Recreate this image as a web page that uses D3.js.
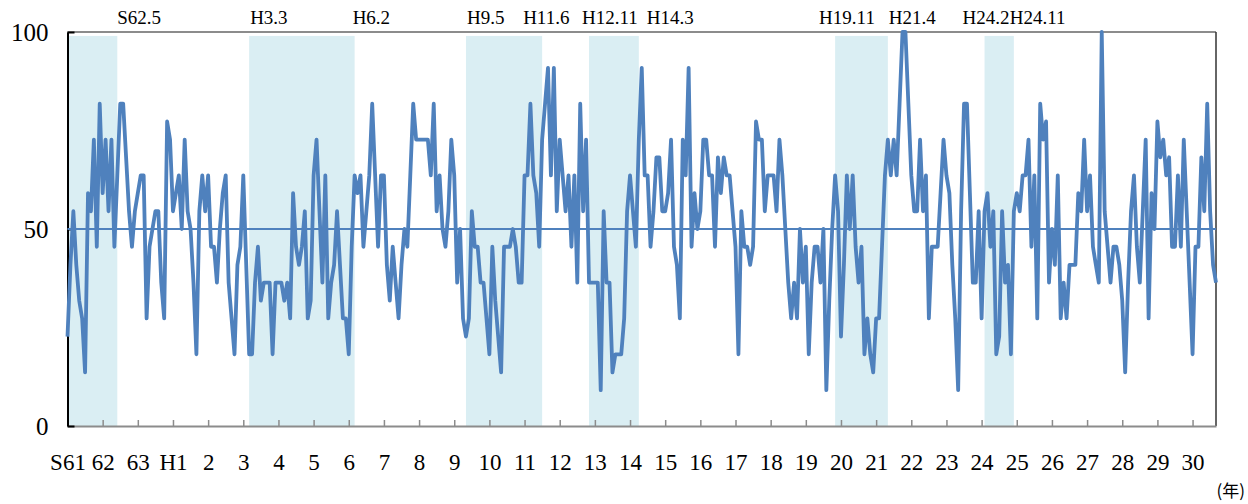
<!DOCTYPE html>
<html>
<head>
<meta charset="utf-8">
<script src="https://cdn.jsdelivr.net/npm/d3@7"></script>
<style>
  body { margin: 0; background: #fff; }
  svg text { font-family: "Liberation Serif", "DejaVu Serif", serif; fill: #000; }
</style>
</head>
<body>
<div id="chart"></div>
<script>
// monthly DI values, from S61.1 (Jan 1986)
var diShowa = [
  22.7, 40.9, 54.5, 40.9, 31.8, 27.3, 13.6, 59.1, 54.5, 72.7, 45.5, 81.8,
  59.1, 72.7, 54.5, 72.7, 45.5, 63.6, 81.8, 81.8, 68.2, 54.5, 45.5, 54.5,
  59.1, 63.6, 63.6, 27.3, 45.5, 50, 54.5, 54.5, 36.4, 27.3, 77.3, 72.7
];
var diH1toH10 = [
  54.5, 59.1, 63.6, 50, 72.7, 54.5, 50, 36.4, 18.2, 54.5,
  63.6, 54.5, 63.6, 45.5, 45.5, 36.4, 50, 59.1, 63.6, 36.4,
  27.3, 18.2, 40.9, 45.5, 63.6, 40.9, 18.2, 18.2, 36.4, 45.5,
  31.8, 36.4, 36.4, 36.4, 18.2, 36.4, 36.4, 36.4, 31.8, 36.4,
  27.3, 59.1, 45.5, 40.9, 45.5, 54.5, 27.3, 31.8, 63.6, 72.7,
  54.5, 36.4, 63.6, 27.3, 36.4, 40.9, 54.5, 40.9, 27.3, 27.3,
  18.2, 45.5, 63.6, 59.1, 63.6, 45.5, 54.5, 63.6, 81.8, 63.6,
  45.5, 63.6, 63.6, 40.9, 31.8, 45.5, 36.4, 27.3, 40.9, 50,
  45.5, 63.6, 81.8, 72.7, 72.7, 72.7, 72.7, 72.7, 63.6, 81.8,
  54.5, 63.6, 50, 45.5, 54.5, 72.7, 63.6, 36.4, 50, 27.3,
  22.7, 27.3, 54.5, 45.5, 45.5, 36.4, 36.4, 27.3, 18.2, 45.5,
  31.8, 22.7, 13.6, 45.5, 45.5, 45.5, 50, 45.5, 36.4, 36.4
];
var diH11toH20 = [
  63.6, 63.6, 81.8, 63.6, 59.1, 45.5, 72.7, 81.8, 90.9, 63.6,
  90.9, 54.5, 72.7, 63.6, 54.5, 63.6, 45.5, 63.6, 36.4, 81.8,
  54.5, 72.7, 36.4, 36.4, 36.4, 36.4, 9.1, 54.5, 36.4, 36.4,
  13.6, 18.2, 18.2, 18.2, 27.3, 54.5, 63.6, 54.5, 45.5, 72.7,
  90.9, 63.6, 63.6, 45.5, 54.5, 68.2, 68.2, 54.5, 54.5, 59.1,
  72.7, 45.5, 40.9, 27.3, 72.7, 63.6, 90.9, 45.5, 59.1, 50,
  54.5, 72.7, 72.7, 63.6, 63.6, 45.5, 68.2, 59.1, 68.2, 63.6,
  63.6, 54.5, 45.5, 18.2, 54.5, 45.5, 45.5, 40.9, 45.5, 77.3,
  72.7, 72.7, 54.5, 63.6, 63.6, 63.6, 54.5, 72.7, 63.6, 50,
  36.4, 27.3, 36.4, 27.3, 50, 36.4, 45.5, 18.2, 36.4, 45.5,
  45.5, 36.4, 50, 9.1, 31.8, 50, 63.6, 54.5, 22.7, 40.9,
  63.6, 50, 63.6, 45.5, 36.4, 45.5, 18.2, 27.3, 18.2, 13.6
];
var diH21toH30 = [
  27.3, 27.3, 45.5, 63.6, 72.7, 63.6, 72.7, 63.6, 81.8, 100,
  100, 81.8, 63.6, 54.5, 54.5, 72.7, 54.5, 63.6, 27.3, 45.5,
  45.5, 45.5, 59.1, 72.7, 63.6, 59.1, 40.9, 27.3, 9.1, 54.5,
  81.8, 81.8, 59.1, 36.4, 36.4, 54.5, 27.3, 54.5, 59.1, 45.5,
  54.5, 18.2, 22.7, 54.5, 36.4, 40.9, 18.2, 54.5, 59.1, 54.5,
  63.6, 63.6, 72.7, 45.5, 63.6, 27.3, 81.8, 72.7, 77.3, 36.4,
  50, 40.9, 63.6, 27.3, 36.4, 27.3, 40.9, 40.9, 40.9, 59.1,
  54.5, 72.7, 54.5, 63.6, 45.5, 40.9, 36.4, 100, 54.5, 45.5,
  36.4, 45.5, 45.5, 40.9, 31.8, 13.6, 36.4, 54.5, 63.6, 45.5,
  36.4, 54.5, 72.7, 27.3, 59.1, 50, 77.3, 68.2, 72.7, 63.6,
  68.2, 45.5, 45.5, 63.6, 45.5, 72.7, 54.5, 36.4, 18.2, 45.5,
  45.5, 68.2, 54.5, 81.8, 54.5, 40.9, 36.4
];
var diValues = diShowa.concat(diH1toH10, diH11toH20, diH21toH30);

var yearLabels = ["S61", "62", "63", "H1", "2", "3", "4", "5", "6", "7", "8", "9", "10",
  "11", "12", "13", "14", "15", "16", "17", "18", "19", "20", "21", "22", "23", "24",
  "25", "26", "27", "28", "29", "30"];
var yTicks = [0, 50, 100];

// recession periods (peak, trough); first one starts before the data
var recStart = ["S61.1", "H3.3", "H9.5", "H12.11", "H19.11", "H24.2"];
var recEnd = ["S62.5", "H6.2", "H11.6", "H14.3", "H21.4", "H24.11"];
var topLabels = ["S62.5", "H3.3", "H6.2", "H9.5", "H11.6", "H12.11", "H14.3", "H19.11", "H21.4", "H24.2", "H24.11"];

var W = 1248, H = 504;
var margin = {top: 32, right: 32, bottom: 78, left: 67.5};

var svg = d3.select("#chart").append("svg")
  .attr("width", W)
  .attr("height", H);

// month index counted from S61.1
function monthIndex(s) {
  var era = s.charAt(0);
  var p = s.slice(1).split(".");
  var yr = (era == "S" ? 1925 : 1988) + (+p[0]);
  return (yr - 1986) * 12 + (+p[1]) - 1;
}

var xScale = d3.scaleLinear().domain([0, diValues.length - 1]).range([margin.left, W - margin.right]);
var yScale = d3.scaleLinear().domain([0, 100]).range([H - margin.bottom, margin.top]);

// shading
svg.selectAll("rect.rec")
  .data(recStart.map(function(d, i){ return [monthIndex(d), monthIndex(recEnd[i]) + 1]; }))
  .enter()
  .append("rect")
  .attr("class", "rec")
  .attr("x", function(d){ return xScale(Math.max(0, d[0])); })
  .attr("width", function(d){ return xScale(d[1]) - xScale(Math.max(0, d[0])); })
  .attr("y", yScale(99))
  .attr("height", yScale(0) - yScale(99))
  .attr("fill", "#daeef3");

// frame
svg.append("line")
  .attr("x1", xScale(0)).attr("x2", xScale(diValues.length - 1))
  .attr("y1", yScale(100)).attr("y2", yScale(100))
  .attr("stroke", "#8c8c8c").attr("stroke-width", 2);
svg.append("line")
  .attr("x1", xScale(diValues.length - 1)).attr("x2", xScale(diValues.length - 1))
  .attr("y1", yScale(100)).attr("y2", yScale(0))
  .attr("stroke", "#333").attr("stroke-width", 1.5);

// x axis
var xAxisGroup = svg.append("g")
  .attr("transform", "translate(0," + yScale(0) + ")");
var xAxis = d3.axisBottom(xScale)
  .tickValues(yearLabels.map(function(d, i){ return i * 12; }))
  .tickFormat(function(d, i){ return yearLabels[i]; })
  .tickSizeInner(-6).tickSizeOuter(0).tickPadding(28);
xAxisGroup.call(xAxis);
xAxisGroup.select(".domain").attr("stroke", "#8c8c8c").attr("stroke-width", 2);
xAxisGroup.selectAll(".tick line").attr("stroke", "#8c8c8c").attr("stroke-width", 1.5);
xAxisGroup.selectAll(".tick text").style("font-size", "23px").attr("fill", "#000");

// y axis
var yAxisGroup = svg.append("g")
  .attr("transform", "translate(" + xScale(0) + ",0)");
var yAxis = d3.axisLeft(yScale)
  .tickValues(yTicks)
  .tickSizeInner(-7).tickSizeOuter(0).tickPadding(19);
yAxisGroup.call(yAxis);
yAxisGroup.select(".domain").attr("stroke", "#000").attr("stroke-width", 2);
yAxisGroup.selectAll(".tick line").attr("stroke", "#000").attr("stroke-width", 2);
yAxisGroup.selectAll(".tick text").style("font-size", "25px").attr("fill", "#000");

// 50 line
svg.append("line")
  .attr("x1", xScale(0)).attr("x2", xScale(diValues.length - 1))
  .attr("y1", yScale(50)).attr("y2", yScale(50))
  .attr("stroke", "#4f81bd").attr("stroke-width", 1.8);

// DI line
var line = d3.line()
  .x(function(d, i){ return xScale(i); })
  .y(function(d){ return yScale(d); });

svg.append("path")
  .datum(diValues)
  .attr("d", line)
  .attr("fill", "none")
  .attr("stroke", "#4f81bd")
  .attr("stroke-width", 3.8)
  .attr("stroke-linejoin", "round");

// labels above the shading (shifted by hand so they do not run into each other)
var labelAt = [1, 0, 1, 0, 1, 0, 1, 0, 1, 0, 1]; // 0 = start of a period, 1 = end of a period
var labelDx = [0, 1, -2, 1, -19, -7, 8, -16, 1, -22, -4];
svg.selectAll("text.top")
  .data(topLabels)
  .enter()
  .append("text")
  .attr("class", "top")
  .attr("x", function(d, i){ return xScale(monthIndex(d) + labelAt[i]) + labelDx[i]; })
  .attr("y", 24)
  .style("font-size", "19px")
  .text(function(d){ return d; });

svg.append("text")
  .attr("x", 1245)
  .attr("y", 497)
  .attr("text-anchor", "end")
  .style("font-family", "'Noto Sans CJK JP', sans-serif")
  .style("font-size", "17px")
  .text("(年)");
</script>
</body>
</html>
